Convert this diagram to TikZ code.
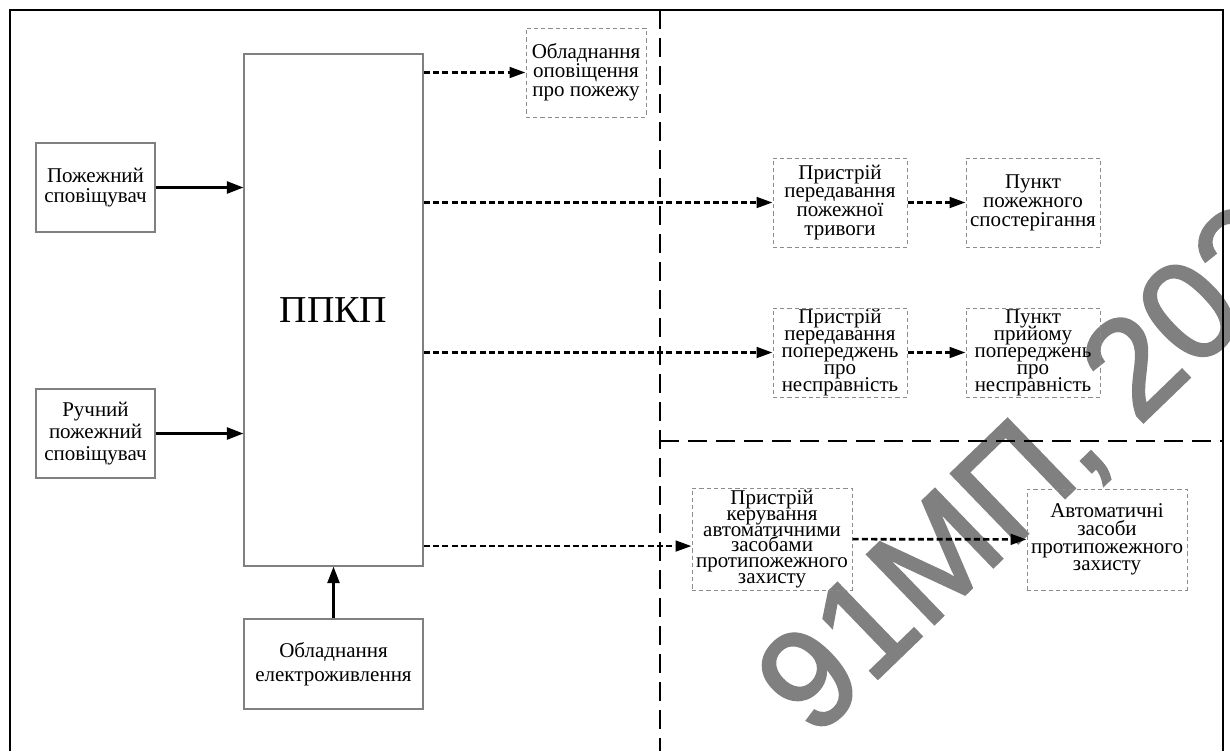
\documentclass[tikz,border=0pt]{standalone}
\usepackage{fontspec}
\setmainfont{Liberation Serif}
\newfontfamily\wmfont{Liberation Sans}[FakeBold=2]
\usetikzlibrary{arrows.meta}
\def\px{0.75pt}
\tikzset{
	fs/.style={font=\fontsize{15.75}{#1}\selectfont},
	wh/.style 2 args={minimum width=#1*\px, minimum height=#2*\px},
	solidbox/.style={draw=gray, line width=0.8pt, inner sep=0pt, align=center, fs=17},
	dashbox/.style={draw=gray!90, line width=0.75pt, dash pattern=on 3.2pt off 2.2pt, inner sep=0pt, align=center, fs=14.2},
	solidarrow/.style={line width=2pt, -{Triangle[length=12.5pt,width=9pt]}},
	dotarrow/.style={line width=2pt, dash pattern=on 4.6pt off 2.4pt, -{Triangle[length=12pt,width=8pt]}},
	frame/.style={line width=2.2pt},
	divider/.style={line width=2pt, dash pattern=on 14pt off 7pt}
}
\begin{document}
\lineskiplimit=-100pt
\begin{tikzpicture}[x=\px, y=-\px, line join=miter]
	\useasboundingbox (0,0) rectangle (1230,751);
	% водяний знак
	\begin{scope}
		\clip (0,0) rectangle (1230,751);
		\node[anchor=base west, rotate=44, inner sep=0pt, text=gray,
			font=\wmfont\fontsize{105}{105}\selectfont] (mark) at (814,740) {91МП, 2023};
	\end{scope}
	% рамка та межі
	\draw[frame] (10,751) -- (10,10) -- (1223,10) -- (1223,751);
	\draw[divider] (660,10) -- (660,751);
	\draw[divider] (660,441) -- (1223,441);
	% блоки
	\node[solidbox, wh={179}{512}, font=\fontsize{28.5}{30}\selectfont] (ppkp) at (333.5,310) {ППКП};
	\node[solidbox, wh={119}{89}, fs=14.5] (sensor) at (95.5,187.5) {Пожежний\\сповіщувач};
	\node[solidbox, wh={119}{89}, fs=16.3] (manual) at (95.5,433.5) {Ручний\\пожежний\\сповіщувач};
	\node[solidbox, wh={179}{90}, fs=18] (power) at (333.5,664) {Обладнання\\електроживлення};
	\node[dashbox, wh={120}{89}] (alarm) at (586,72.5) {Обладнання\\оповіщення\\про пожежу};
	\node[dashbox, wh={134}{89}] (firetx) at (840,202.5) {Пристрій\\передавання\\пожежної\\тривоги};
	\node[dashbox, wh={134}{89}] (firepost) at (1033,202.5) {Пункт\\пожежного\\спостерігання};
	\node[dashbox, wh={134}{89}, fs=12.8] (faulttx) at (840,352.5) {Пристрій\\передавання\\попереджень\\про\\несправність};
	\node[dashbox, wh={134}{89}, fs=12.8] (faultrx) at (1033,352.5) {Пункт\\прийому\\попереджень\\про\\несправність};
	\node[dashbox, wh={160}{102}, fs=11.8] (ctrl) at (772,539) {Пристрій\\керування\\автоматичними\\засобами\\протипожежного\\захисту};
	\node[dashbox, wh={160}{101}, fs=13.3] (auto) at (1107,539.5) {Автоматичні\\засоби\\протипожежного\\захисту};
	% зв'язки
	\draw[solidarrow] (sensor.east) -- (ppkp.west |- sensor.east);
	\draw[solidarrow] (manual.east) -- (ppkp.west |- manual.east);
	\draw[solidarrow] (power.north) -- (ppkp.south);
	\draw[dotarrow] (ppkp.east |- alarm.west) -- (alarm.west);
	\draw[dotarrow] (ppkp.east |- firetx.west) -- (firetx.west);
	\draw[dotarrow] (firetx) -- (firepost);
	\draw[dotarrow] (ppkp.east |- faulttx.west) -- (faulttx.west);
	\draw[dotarrow] (faulttx) -- (faultrx);
	\draw[dotarrow] (ppkp.east |- ctrl.185) -- (ctrl.185);
	\draw[dotarrow] (ctrl) -- (auto);
\end{tikzpicture}
\end{document}
